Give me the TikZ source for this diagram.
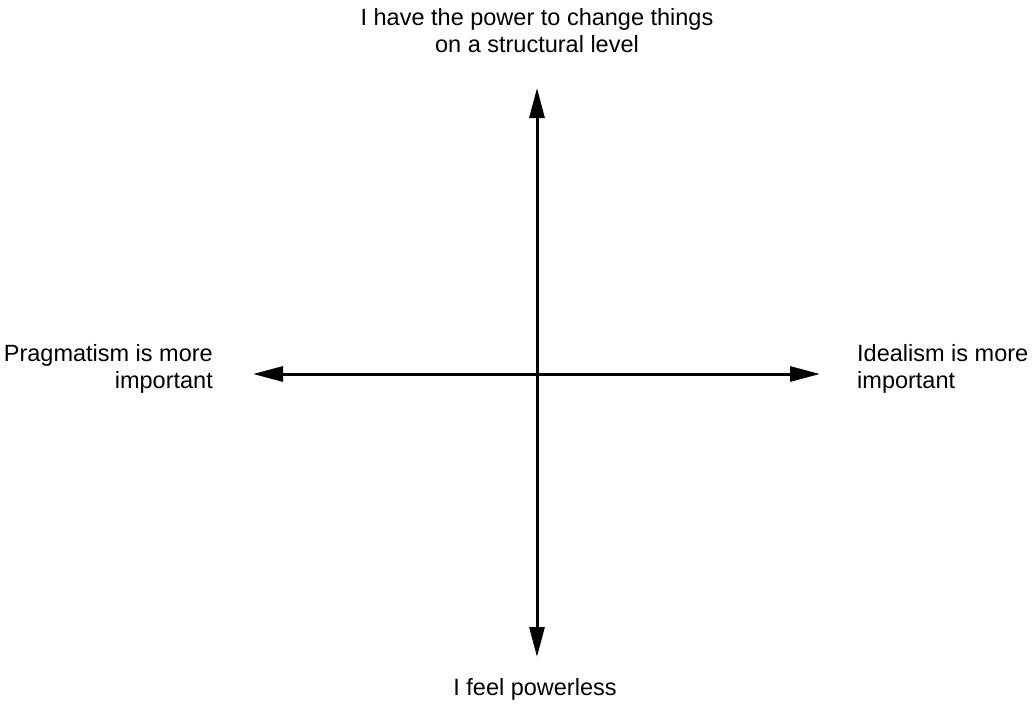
\documentclass[tikz,border=0pt]{standalone}
\usepackage{fontspec}
\setmainfont{Liberation Sans}
\usetikzlibrary{arrows.meta}
\tikzset{
  axis/.style={line width=3pt, {Triangle[length=30pt,width=15pt]}-{Triangle[length=30pt,width=15pt]}},
  lbl/.style={inner sep=0pt, font=\fontsize{23.5}{27}\selectfont},
}
\begin{document}
\begin{tikzpicture}[x=1pt,y=-1pt]
\useasboundingbox (0,0) rectangle (1034,704);
\coordinate (top) at (537,88);
\coordinate (bot) at (537,657);
\coordinate (lft) at (253,374);
\coordinate (rgt) at (820,374);
\draw[axis] (bot) -- (top);
\draw[axis] (lft) -- (rgt);
\node[lbl, align=center, anchor=base] (ttop) at (537,52) {I have the power to change things\\on a structural level};
\node[lbl, align=right, anchor=base east] (tleft) at (213,388) {Pragmatism is more\\important};
\node[lbl, align=left, anchor=base west] (tright) at (857,388) {Idealism is more\\important};
\node[lbl, anchor=base] (tbot) at (535,695) {I feel powerless};
\end{tikzpicture}
\end{document}
